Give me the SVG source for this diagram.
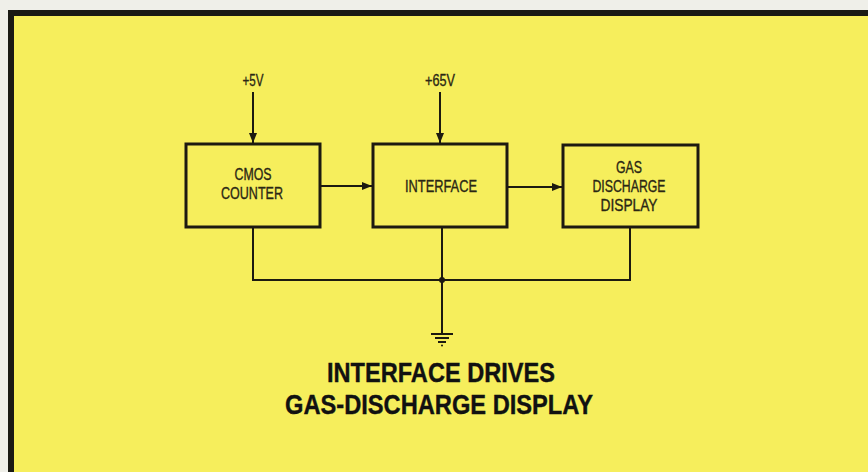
<svg xmlns="http://www.w3.org/2000/svg" width="868" height="472" viewBox="0 0 868 472">
<defs>
<style>
.box{fill:none;stroke:#1c1a10;stroke-width:3}
.wire{fill:none;stroke:#1c1a10;stroke-width:2}
.lbl{font-family:"Liberation Sans",Arial,sans-serif;font-size:17px;fill:#2a2614;stroke:#2a2614;stroke-width:0.35;text-anchor:middle}
.ttl{font-family:"Liberation Sans",Arial,sans-serif;font-size:28px;font-weight:bold;fill:#111;stroke:#111;stroke-width:0.4;text-anchor:middle}
</style>
<marker id="arr" viewBox="0 0 10 10" refX="10" refY="5" markerWidth="10" markerHeight="10" markerUnits="userSpaceOnUse" orient="auto">
<path d="M0,1 L10,5 L0,9 Z" fill="#1c1a10"/>
</marker>
</defs>
<rect x="0" y="0" width="868" height="472" fill="#efefe9"/>
<rect x="8" y="10" width="860" height="462" fill="#1a1a14"/>
<rect x="14" y="16" width="854" height="456" fill="#f6ee5c"/>

<g id="connectors">
<line class="wire" x1="253" y1="92" x2="253" y2="143" marker-end="url(#arr)"/>
<line class="wire" x1="440" y1="92" x2="440" y2="143" marker-end="url(#arr)"/>
<line class="wire" x1="320" y1="186" x2="372" y2="186" marker-end="url(#arr)"/>
<line class="wire" x1="507" y1="187" x2="562" y2="187" marker-end="url(#arr)"/>
<polyline class="wire" points="253,227 253,280 630,280 630,227"/>
<line class="wire" x1="442" y1="227" x2="442" y2="334"/>
<circle cx="442" cy="280" r="3" fill="#1c1a10"/>
</g>

<g id="supply5">
<text class="lbl" x="253" y="86" font-size="15" textLength="21" lengthAdjust="spacingAndGlyphs">+5V</text>
</g>
<g id="supply65">
<text class="lbl" x="440" y="86" font-size="15" textLength="30" lengthAdjust="spacingAndGlyphs">+65V</text>
</g>

<g id="cmos">
<rect class="box" x="186" y="144" width="134" height="83"/>
<text class="lbl" x="253" y="180" textLength="37" lengthAdjust="spacingAndGlyphs">CMOS</text>
<text class="lbl" x="252" y="199" textLength="62" lengthAdjust="spacingAndGlyphs">COUNTER</text>
</g>

<g id="interface">
<rect class="box" x="373" y="144" width="134" height="83"/>
<text class="lbl" x="441" y="192" textLength="72" lengthAdjust="spacingAndGlyphs">INTERFACE</text>
</g>

<g id="display">
<rect class="box" x="563" y="145" width="135" height="82"/>
<text class="lbl" x="629" y="173" font-size="15.5" textLength="26" lengthAdjust="spacingAndGlyphs">GAS</text>
<text class="lbl" x="629" y="192" font-size="15.5" textLength="73" lengthAdjust="spacingAndGlyphs">DISCHARGE</text>
<text class="lbl" x="629" y="211" font-size="15.5" textLength="57" lengthAdjust="spacingAndGlyphs">DISPLAY</text>
</g>

<g id="ground">
<line class="wire" x1="431" y1="334" x2="453" y2="334"/>
<line class="wire" x1="435" y1="338" x2="449" y2="338" stroke-width="1.5"/>
<line class="wire" x1="438" y1="342" x2="446" y2="342" stroke-width="1.5"/>
<circle cx="442" cy="345.5" r="1" fill="#1c1a10"/>
</g>

<g id="title">
<text class="ttl" x="441" y="382" textLength="228" lengthAdjust="spacingAndGlyphs">INTERFACE DRIVES</text>
<text class="ttl" x="439" y="414" textLength="308" lengthAdjust="spacingAndGlyphs">GAS-DISCHARGE DISPLAY</text>
</g>
</svg>
